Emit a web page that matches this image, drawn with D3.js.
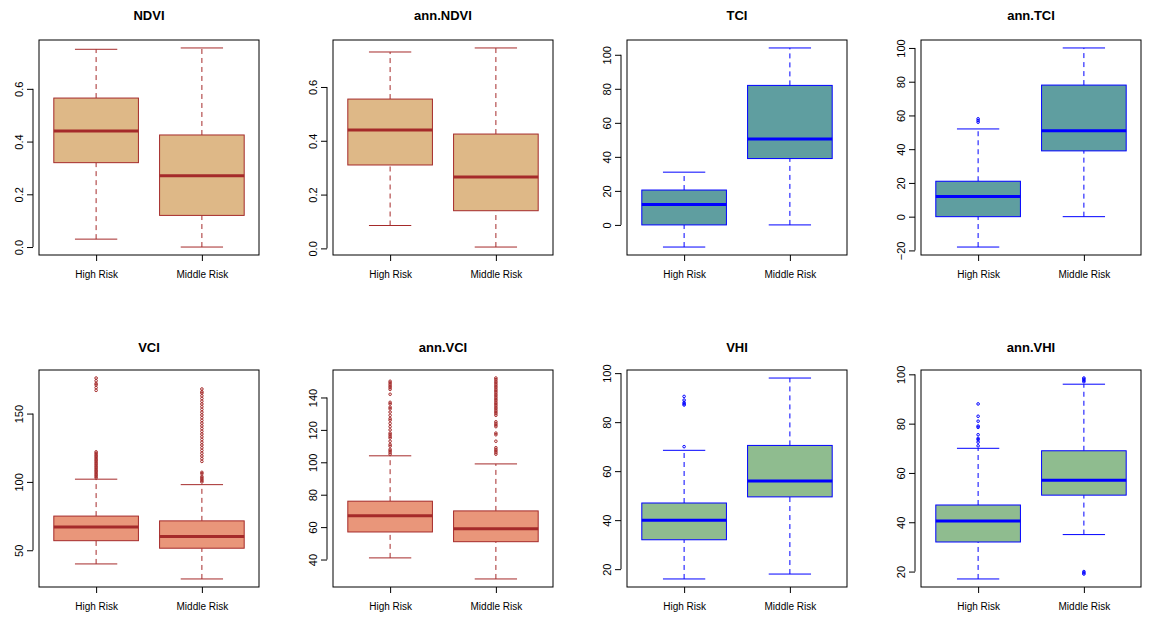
<!DOCTYPE html>
<html>
<head>
<meta charset="utf-8">
<script src="https://cdn.jsdelivr.net/npm/d3@7"></script>
<style>
body { margin: 0; background: #fff; font-family: "Liberation Sans", Arial, sans-serif; }
</style>
</head>
<body>
<svg id="chart" width="1171" height="632"></svg>
<script>
const groups = ["High Risk", "Middle Risk"]

const styles = {
	ndvi: { fill: "#DEB887", stroke: "#A52A2A" },
	tci: { fill: "#5F9EA0", stroke: "#0000FF" },
	vci: { fill: "#E9967A", stroke: "#A52A2A" },
	vhi: { fill: "#8FBC8F", stroke: "#0000FF" }
}

// [lo, q1, median, q3, hi, outliers]
const panels = [
	{ title: "NDVI", style: "ndvi", ticks: [0, 0.2, 0.4, 0.6], fmt: ".1f", boxes: [
		[0.03, 0.32, 0.44, 0.565, 0.75, []],
		[0.0, 0.12, 0.27, 0.425, 0.755, []] ] },
	{ title: "ann.NDVI", style: "ndvi", ticks: [0, 0.2, 0.4, 0.6], fmt: ".1f", boxes: [
		[0.085, 0.31, 0.44, 0.555, 0.73, []],
		[0.005, 0.14, 0.265, 0.425, 0.745, []] ] },
	{ title: "TCI", style: "tci", ticks: [0, 20, 40, 60, 80, 100], fmt: "d", boxes: [
		[-13, 0, 12, 20.5, 31, []],
		[0, 39, 50.5, 82, 104, []] ] },
	{ title: "ann.TCI", style: "tci", ticks: [-20, 0, 20, 40, 60, 80, 100], fmt: "d", boxes: [
		[-18, 0, 12, 21, 52, [56, 57, 58]],
		[0, 39, 51, 78, 100, []] ] },
	{ title: "VCI", style: "vci", ticks: [50, 100, 150], fmt: "d", boxes: [
		[40, 57, 67, 75, 102, [103, 104, 105, 106, 107, 108, 109, 110, 111, 112, 113, 114, 115, 116, 117, 118, 119, 120, 121, 122, 167, 169, 171, 172, 174, 176]],
		[29, 51.5, 60, 71.5, 98, [100, 101, 102, 103, 104, 106, 107, 115, 117, 119, 121, 123, 125, 127, 129, 131, 133, 135, 137, 139, 141, 143, 145, 147, 149, 151, 153, 155, 157, 159, 161, 163, 165, 166, 168]] ] },
	{ title: "ann.VCI", style: "vci", ticks: [40, 60, 80, 100, 120, 140], fmt: "d", boxes: [
		[41, 57, 67, 76, 104, [105, 106, 107, 108, 110, 111, 113, 115, 116, 117, 118, 120, 122, 124, 126, 127, 129, 131, 133, 134, 136, 137, 142, 145, 146, 147, 148, 149, 150]],
		[28, 51, 59, 70, 99, [105, 106, 107, 108, 109, 113, 117, 118, 122, 123, 124, 125, 129, 130, 131, 132, 133, 134, 135, 136, 137, 138, 139, 140, 141, 142, 143, 144, 145, 146, 147, 148, 149, 150, 151, 152]] ] },
	{ title: "VHI", style: "vhi", ticks: [20, 40, 60, 80, 100], fmt: "d", boxes: [
		[16, 32, 40, 47, 68.5, [70, 87, 87.5, 88, 89, 90.5]],
		[18, 49.5, 56, 70.5, 98, []] ] },
	{ title: "ann.VHI", style: "vhi", ticks: [20, 40, 60, 80, 100], fmt: "d", boxes: [
		[17, 32, 40.5, 47, 70, [71, 72.5, 73.5, 74, 75.5, 78.5, 79, 81, 83, 88]],
		[35, 51, 57, 69, 96, [19, 19.5, 20, 97, 97.5, 98, 98.5]] ] }
]

const svg = d3.select("#chart")
const plotW = 220

panels.forEach((p, i) => {
	const col = i % 4
	const row = Math.floor(i / 4)
	const left = 39 + col * 294
	const top = row === 0 ? 40 : 370
	const bottom = row === 0 ? 255 : 587
	const st = styles[p.style]

	const all = p.boxes.flatMap(b => [b[0], b[4], ...b[5]])
	const lo = d3.min(all), hi = d3.max(all)
	const pad = (hi - lo) * 0.04

	const y = d3.scaleLinear().domain([lo - pad, hi + pad]).range([bottom, top])
	const x = d3.scaleLinear().domain([0.46, 2.54]).range([left, left + plotW])
	const unit = x(1) - x(0)

	const g = svg.append("g")

	// Title
	g.append("text")
		.attr("x", left + plotW / 2)
		.attr("y", row === 0 ? 20 : 352)
		.attr("text-anchor", "middle")
		.style("font-weight", "bold")
		.style("font-size", "13px")
		.text(p.title)

	p.boxes.forEach((b, j) => {
		const cx = x(j + 1)
		const hw = unit * 0.4

		// Whiskers
		g.selectAll(null).data([[b[0], b[1]], [b[3], b[4]]]).enter().append("line")
			.attr("x1", cx).attr("x2", cx)
			.attr("y1", d => y(d[0])).attr("y2", d => y(d[1]))
			.style("stroke", st.stroke)
			.style("stroke-dasharray", "5,4")
		g.selectAll(null).data([b[0], b[4]]).enter().append("line")
			.attr("x1", cx - hw / 2).attr("x2", cx + hw / 2)
			.attr("y1", d => y(d)).attr("y2", d => y(d))
			.style("stroke", st.stroke)

		// Box
		g.append("rect")
			.attr("x", cx - hw).attr("width", hw * 2)
			.attr("y", y(b[3])).attr("height", y(b[1]) - y(b[3]))
			.style("fill", st.fill)
			.style("stroke", st.stroke)

		// Median
		g.append("line")
			.attr("x1", cx - hw).attr("x2", cx + hw)
			.attr("y1", y(b[2])).attr("y2", y(b[2]))
			.style("stroke", st.stroke)
			.style("stroke-width", 3)

		// Outliers
		g.selectAll(null).data(b[5]).enter().append("circle")
			.attr("cx", cx).attr("cy", d => y(d))
			.attr("r", 1.3)
			.style("fill", "none")
			.style("stroke", st.stroke)
	})

	// Frame
	g.append("rect")
		.attr("x", left).attr("y", top)
		.attr("width", plotW).attr("height", bottom - top)
		.style("fill", "none").style("stroke", "#000")

	// Y axis
	const yAxis = g.append("g")
		.attr("transform", `translate(${left - 6},0)`)
		.call(d3.axisLeft(y).tickValues(p.ticks).tickFormat(d3.format(p.fmt)).tickSize(6).tickSizeOuter(0))
	yAxis.select(".domain").attr("d", `M0,${y(p.ticks[0])}V${y(p.ticks[p.ticks.length - 1])}`)
	yAxis.selectAll("text")
		.attr("transform", function() {
			const t = d3.select(this.parentNode).attr("transform")
			return null
		})
	yAxis.selectAll(".tick text")
		.attr("x", 0).attr("dy", 0)
		.attr("transform", "translate(-10,0) rotate(-90)")
		.attr("text-anchor", "middle")
		.style("font-size", "11px")
		.style("font-family", "Liberation Sans, Arial, sans-serif")
	yAxis.selectAll("line, path").style("stroke", "#000")

	// X axis
	const xAxis = g.append("g")
		.attr("transform", `translate(0,${bottom})`)
		.call(d3.axisBottom(x).tickValues([1, 2]).tickFormat(d => groups[d - 1]).tickSize(6).tickSizeOuter(0))
	xAxis.select(".domain").remove()
	xAxis.selectAll(".tick text")
		.attr("y", 16)
		.style("font-size", "10px")
		.style("font-family", "Liberation Sans, Arial, sans-serif")
	xAxis.selectAll("line").style("stroke", "#000")
})
</script>
</body>
</html>
